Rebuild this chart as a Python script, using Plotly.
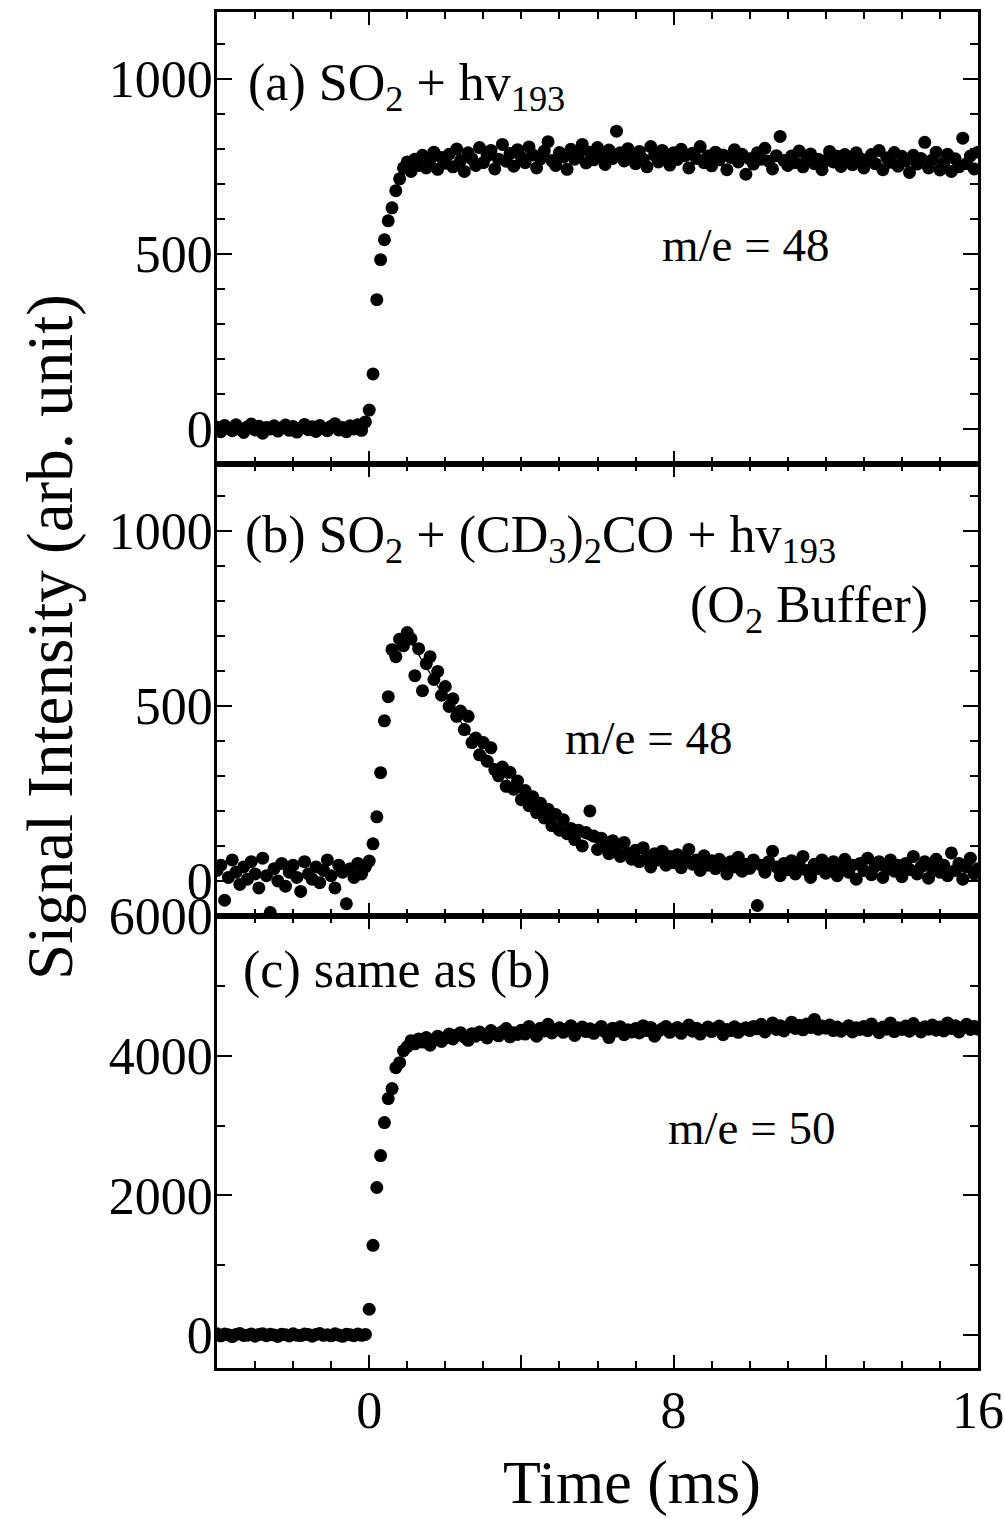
import plotly.graph_objects as go
from plotly.subplots import make_subplots

# ---------------- data ----------------
time_ms = [
    -4.0, -3.9, -3.8, -3.7, -3.6, -3.5, -3.4, -3.3, -3.2, -3.1,
    -3.0, -2.9, -2.8, -2.7, -2.6, -2.5, -2.4, -2.3, -2.2, -2.1,
    -2.0, -1.9, -1.8, -1.7, -1.6, -1.5, -1.4, -1.3, -1.2, -1.1,
    -1.0, -0.9, -0.8, -0.7, -0.6, -0.5, -0.4, -0.3, -0.2, -0.1,
    0.0, 0.1, 0.2, 0.3, 0.4, 0.5, 0.6, 0.7, 0.8, 0.9,
    1.0, 1.1, 1.2, 1.3, 1.4, 1.5, 1.6, 1.7, 1.8, 1.9,
    2.0, 2.1, 2.2, 2.3, 2.4, 2.5, 2.6, 2.7, 2.8, 2.9,
    3.0, 3.1, 3.2, 3.3, 3.4, 3.5, 3.6, 3.7, 3.8, 3.9,
    4.0, 4.1, 4.2, 4.3, 4.4, 4.5, 4.6, 4.7, 4.8, 4.9,
    5.0, 5.1, 5.2, 5.3, 5.4, 5.5, 5.6, 5.7, 5.8, 5.9,
    6.0, 6.1, 6.2, 6.3, 6.4, 6.5, 6.6, 6.7, 6.8, 6.9,
    7.0, 7.1, 7.2, 7.3, 7.4, 7.5, 7.6, 7.7, 7.8, 7.9,
    8.0, 8.1, 8.2, 8.3, 8.4, 8.5, 8.6, 8.7, 8.8, 8.9,
    9.0, 9.1, 9.2, 9.3, 9.4, 9.5, 9.6, 9.7, 9.8, 9.9,
    10.0, 10.1, 10.2, 10.3, 10.4, 10.5, 10.6, 10.7, 10.8, 10.9,
    11.0, 11.1, 11.2, 11.3, 11.4, 11.5, 11.6, 11.7, 11.8, 11.9,
    12.0, 12.1, 12.2, 12.3, 12.4, 12.5, 12.6, 12.7, 12.8, 12.9,
    13.0, 13.1, 13.2, 13.3, 13.4, 13.5, 13.6, 13.7, 13.8, 13.9,
    14.0, 14.1, 14.2, 14.3, 14.4, 14.5, 14.6, 14.7, 14.8, 14.9,
    15.0, 15.1, 15.2, 15.3, 15.4, 15.5, 15.6, 15.7, 15.8, 15.9,
    16.0,
]

# (a) SO2 + hv193, m/e = 48
signal_a = [
    5, -8, 10, 2, -5, 12, 0, -10, 6, 14,
    -3, 8, -12, 4, 0, 9, -6, 3, 11, -4,
    7, -9, 2, 13, -2, 6, -7, 10, 1, -5,
    8, 15, -3, 4, -8, 9, 0, 12, -4, 20,
    54, 157, 369, 483, 540, 594, 631, 680, 714, 745,
    762, 735, 770, 752, 781, 745, 768, 790, 741, 775,
    758, 784, 748, 799, 766, 735, 788, 771, 752, 803,
    760, 779, 795, 742, 770, 812, 764, 786, 750, 797,
    775, 760, 805, 782, 745, 771, 793, 820, 766, 752,
    789, 776, 741, 798, 770, 785, 812, 759, 790, 768,
    803, 781, 755, 796, 772, 850, 788, 765, 800, 778,
    757, 792, 770, 748, 806, 781, 762, 795, 775, 753,
    788, 769, 798, 780, 745, 787, 772, 806, 760, 779,
    751, 790, 768, 782, 740, 775, 797, 762, 784, 727,
    771, 756, 788, 770, 801, 764, 742, 780, 835, 766,
    752, 779, 760, 793, 748, 772, 785, 757, 770, 740,
    766, 792, 762, 778, 749, 783, 767, 754, 788, 772,
    745, 769, 783, 757, 795, 740, 774, 761, 789, 750,
    778, 765, 732, 781, 756, 772, 818, 745, 768, 790,
    739, 760, 784, 735, 771, 748, 830, 757, 779, 742,
    790,
]

# (b) SO2 + (CD3)2CO + hv193 (O2 buffer), m/e = 48
signal_b = [
    30, 45, -55, 10, 60, 25, -10, 40, 5, 55,
    20, -20, 65, 15, -90, 35, 0, 50, -15, 25,
    45, 10, -30, 55, 20, 5, 40, -5, 30, 60,
    15, -20, 45, 25, -65, 35, 10, 50, 20, 40,
    57, 106, 183, 309, 457, 526, 660, 640, 690, 671,
    709, 691, 586, 663, 543, 620, 640, 575, 598, 530,
    555, 498, 520, 470, 485, 432, 470, 395, 408, 360,
    395, 342, 380, 318, 300, 325, 270, 310, 262, 285,
    232, 258, 215, 240, 195, 222, 180, 205, 158, 190,
    145, 175, 135, 150, 118, 145, 100, 138, 200, 128,
    90, 122, 105, 78, 115, 95, 70, 110, 80, 62,
    88, 55, 95, 68, 40, 78, 60, 85, 45, 70,
    52, 75, 38, 65, 90, 48, 60, 30, 72, 45,
    58, 35, 62, 50, 20, 55, 40, 68, 28, 48,
    36, 60, -70, 45, 25, 55, 85, 40, 15, 50,
    32, 58, 20, 45, 70, 30, 10, 48, 35, 60,
    22, 40, 55, 15, 38, 62, 25, 45, 5, 50,
    30, 65, 18, 42, 55, 10, 35, 60, 28, 45,
    12, 50, 33, 70, 20, 40, 55, 8, 38, 62,
    25, 45, 15, 80, 30, 50, 5, 40, 65, 20,
    35,
]

# fitted curve for (b), read at a few times (drawn from the peak onward)
fit_b_time = [0.9, 1.0, 1.5, 2.0, 2.5, 3.0, 3.5, 4.0, 4.5, 5.0, 5.5, 6.0,
              7.0, 8.0, 9.0, 10.0, 12.0, 14.0, 16.0]
fit_b_value = [690, 690, 610, 520, 440, 370, 305, 250, 200, 160, 130, 108,
               75, 55, 47, 40, 35, 30, 25]

# (c) same as (b), m/e = 50
signal_c = [
    20, -10, 15, 5, -20, 10, 25, -5, 0, 18,
    -15, 8, 22, -8, 12, 3, -18, 14, 6, -12,
    20, 0, -6, 16, 9, -14, 11, 24, -3, 7,
    -10, 19, 2, -16, 13, 5, -8, 17, -2, 10,
    371, 1286, 2114, 2571, 3043, 3386, 3530, 3829, 3900, 4071,
    4130, 4215, 4170, 4240, 4195, 4260, 4150, 4230, 4280, 4205,
    4255, 4310, 4240, 4295, 4330, 4265, 4220, 4315, 4280, 4340,
    4300, 4255, 4360, 4320, 4285, 4345, 4390, 4270, 4330, 4305,
    4365, 4310, 4420, 4340, 4280, 4395, 4355, 4450, 4325, 4370,
    4400, 4335, 4380, 4430, 4290, 4360, 4410, 4345, 4385, 4320,
    4375, 4420, 4340, 4260, 4395, 4355, 4415, 4300, 4370, 4340,
    4390, 4325, 4430, 4360, 4405, 4280, 4350, 4385, 4420, 4335,
    4370, 4405, 4320, 4380, 4440, 4350, 4395, 4310, 4365, 4410,
    4345, 4390, 4425, 4300, 4375, 4360, 4415, 4335, 4380, 4400,
    4360, 4420, 4385, 4450, 4340, 4400, 4470, 4375, 4430, 4355,
    4410, 4480, 4390, 4435, 4370, 4455, 4405, 4520, 4380, 4425,
    4395, 4440, 4360, 4410, 4350, 4385, 4430, 4340, 4400, 4375,
    4420, 4360, 4455, 4390, 4330, 4410, 4380, 4470, 4345, 4400,
    4375, 4425, 4350, 4460, 4395, 4340, 4415, 4380, 4440, 4365,
    4410, 4355, 4470, 4390, 4430, 4340, 4405, 4450, 4375, 4420,
    4380,
]

x_tickvals = [-4, 0, 4, 8, 12, 16]
x_ticktext = ["", "0", "", "8", "", "16"]
y_ticks_ab = [0, 500, 1000]
y_ticks_c = [0, 2000, 4000, 6000]

# ---------------- layout geometry ----------------
W, H = 1005, 1519
L, R, T, B = 217, 978, 12, 1368
FONT = "Liberation Serif, Times New Roman, serif"

def px(xpix):
    return (xpix - L) / (R - L)

def py(ypix):
    return (B - ypix) / (B - T)

fig = make_subplots(rows=3, cols=1, shared_xaxes=True, vertical_spacing=0)

marker = dict(color="black", size=13, line=dict(width=0))

fig.add_trace(go.Scatter(x=time_ms, y=signal_a, mode="markers", marker=marker,
                         showlegend=False), row=1, col=1)
fig.add_trace(go.Scatter(x=fit_b_time, y=fit_b_value, mode="lines",
                         line=dict(color="black", width=1.3, shape="spline"),
                         showlegend=False), row=2, col=1)
fig.add_trace(go.Scatter(x=time_ms, y=signal_b, mode="markers", marker=marker,
                         showlegend=False), row=2, col=1)
fig.add_trace(go.Scatter(x=time_ms, y=signal_c, mode="markers", marker=marker,
                         showlegend=False), row=3, col=1)

common_axis = dict(showline=True, linecolor="black", linewidth=2.5,
                   mirror="ticks", ticks="inside", tickcolor="black",
                   tickwidth=2, showgrid=False, zeroline=False,
                   automargin=False,
                   tickfont=dict(family=FONT, size=52, color="black"))

panel_h = (B - T) / 3.0
doms = [
    [py(T + panel_h), 1.0],
    [py(T + 2 * panel_h), py(T + panel_h)],
    [0.0, py(T + 2 * panel_h)],
]

for r in (1, 2, 3):
    fig.update_xaxes(range=[-4, 16], tickmode="array", tickvals=x_tickvals,
                     ticktext=x_ticktext, ticklen=13,
                     minor=dict(tickmode="linear", tick0=0, dtick=1, ticklen=7,
                                tickwidth=2, tickcolor="black", ticks="inside"),
                     showticklabels=(r == 3), ticklabelstandoff=-5,
                     ticklabeloverflow="allow",
                     row=r, col=1, **common_axis)

ymin = dict(tickmode="linear", tick0=0, ticklen=8, tickwidth=2,
            tickcolor="black", ticks="inside")
fig.update_yaxes(range=[-100, 1190], tickmode="array", tickvals=y_ticks_ab,
                 ticklen=15, domain=doms[0], minor=dict(dtick=100, **ymin),
                 ticklabelstandoff=-9, ticklabeloverflow="allow",
                 row=1, col=1, **common_axis)
fig.update_yaxes(range=[-100, 1190], tickmode="array", tickvals=y_ticks_ab,
                 ticklen=15, domain=doms[1], minor=dict(dtick=100, **ymin),
                 ticklabelstandoff=-9, ticklabeloverflow="allow",
                 row=2, col=1, **common_axis)
fig.update_yaxes(range=[-470, 6000], tickmode="array", tickvals=y_ticks_c,
                 ticklen=15, domain=doms[2], minor=dict(dtick=1000, **ymin),
                 ticklabelstandoff=-9, ticklabeloverflow="allow",
                 row=3, col=1, **common_axis)

ann_font = dict(family=FONT, size=52, color="black")
me_font = dict(family=FONT, size=47, color="black")
annotations = [
    dict(text="(a) SO<sub>2</sub> + hv<sub>193</sub>", x=px(246), y=py(86),
         font=ann_font),
    dict(text="m/e = 48", x=px(660), y=py(245), font=me_font),
    dict(text="(b) SO<sub>2</sub> + (CD<sub>3</sub>)<sub>2</sub>CO + hv<sub>193</sub>",
         x=px(243), y=py(538), font=ann_font),
    dict(text="(O<sub>2</sub> Buffer)", x=px(688), y=py(608), font=ann_font),
    dict(text="m/e = 48", x=px(563), y=py(738), font=me_font),
    dict(text="(c) same as (b)", x=px(241), y=py(970), font=ann_font),
    dict(text="m/e = 50", x=px(666), y=py(1128), font=me_font),
]
for a in annotations:
    fig.add_annotation(xref="paper", yref="paper", xanchor="left",
                       yanchor="middle", showarrow=False, **a)

fig.add_annotation(text="Signal Intensity (arb. unit)", xref="paper",
                   yref="paper", x=px(50), y=py(637), textangle=-90,
                   xanchor="center", yanchor="middle", showarrow=False,
                   font=dict(family=FONT, size=65, color="black"))
fig.add_annotation(text="Time (ms)", xref="paper", yref="paper",
                   x=px(632), y=py(1482), xanchor="center", yanchor="middle",
                   showarrow=False, font=dict(family=FONT, size=62, color="black"))

fig.update_layout(width=W, height=H, autosize=False,
                  margin=dict(l=L, r=W - R, t=T, b=H - B, pad=0, autoexpand=False),
                  paper_bgcolor="white", plot_bgcolor="white",
                  font=dict(family=FONT, color="black"))

fig.write_html("out.html")
